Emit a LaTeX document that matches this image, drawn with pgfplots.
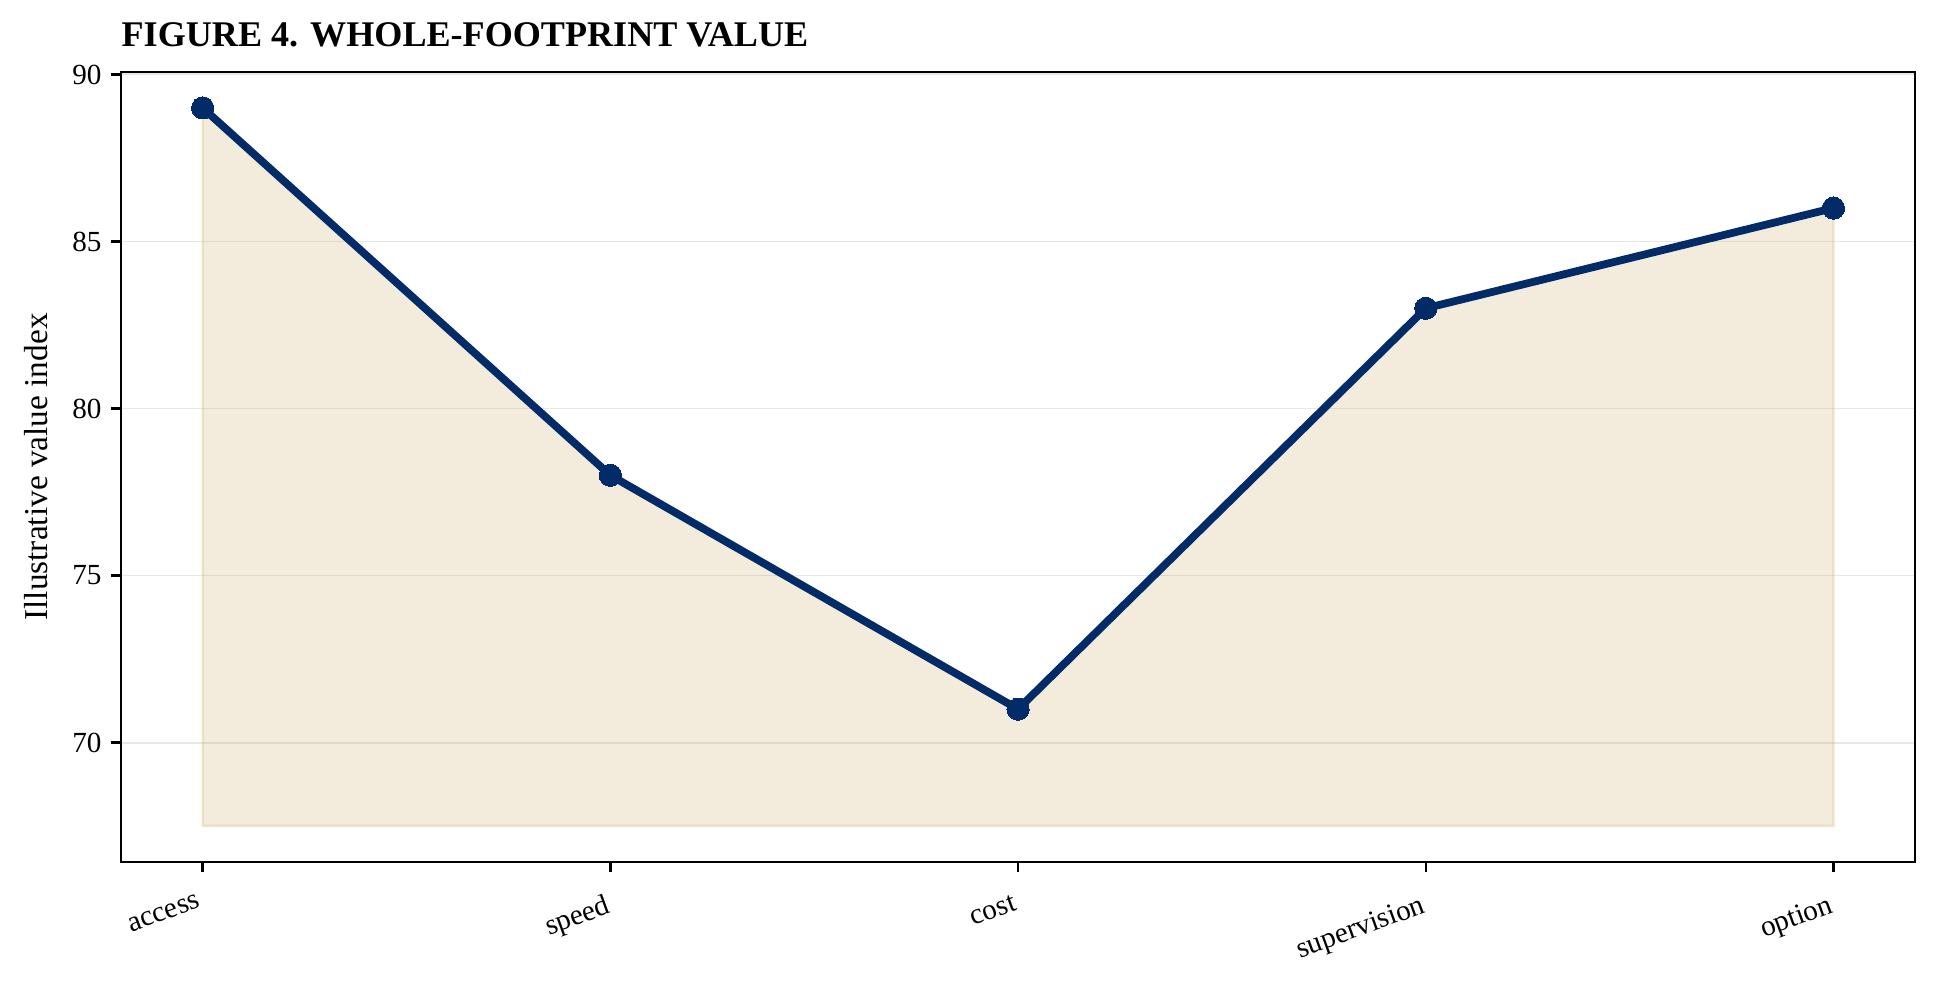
\documentclass[border=0pt]{standalone}
\usepackage{fontspec}
\setmainfont{Liberation Serif}
\usepackage{pgfplots}
\pgfplotsset{compat=1.18}

\definecolor{navy}{RGB}{3,43,103}
\definecolor{sand}{RGB}{195,160,80}
\definecolor{gridc}{RGB}{232,232,232}

\begin{document}
\begin{tikzpicture}
\begin{axis}[
  scale only axis,
  width=645.8pt, height=284.4pt,
  xmin=-0.2, xmax=4.2,
  ymin=66.425, ymax=90.075,
  xtick={0,1,2,3,4},
  xticklabels={access,speed,cost,supervision,option},
  ytick={70,75,80,85,90},
  tick pos=left,
  tick align=outside,
  major tick length=3.5pt,
  every tick/.style={black, line width=0.9pt},
  axis line style={line width=0.9pt},
  ymajorgrids,
  grid style={gridc, line width=0.7pt},
  /pgf/number format/assume math mode=true,
  yticklabel style={font=\fontsize{10.5}{12}\selectfont},
  xticklabel style={font=\fontsize{10.5}{12}\selectfont, yshift=-3.5pt, rotate=20, anchor=north east},
  ylabel={Illustrative value index},
  ylabel style={font=\fontsize{12}{14}\selectfont, at={(axis description cs:0,0.5)}, anchor=center, yshift=30.6pt},
  title={FIGURE 4. WHOLE-FOOTPRINT VALUE},
  title style={font=\fontsize{13}{15}\selectfont\bfseries, at={(axis description cs:0,1)}, anchor=base west, yshift=3pt, inner sep=0pt},
]
\addplot[draw=sand, draw opacity=0.2, line width=1pt, fill=sand, fill opacity=0.2] coordinates {
(0,67.5) (0,89) (1,78) (2,71) (3,83) (4,86) (4,67.5)
} -- cycle;
\addplot[navy, line width=2.8pt, mark=*, mark size=4pt, mark options={fill=navy, draw=navy, line width=0pt}] coordinates {
(0,89)
(1,78)
(2,71)
(3,83)
(4,86)
};
\end{axis}
\pgfresetboundingbox
\path ([shift={(-43.6pt,-43.6pt)}]current axis.south west) rectangle ([shift={(9pt,25.9pt)}]current axis.north east);
\end{tikzpicture}
\end{document}
